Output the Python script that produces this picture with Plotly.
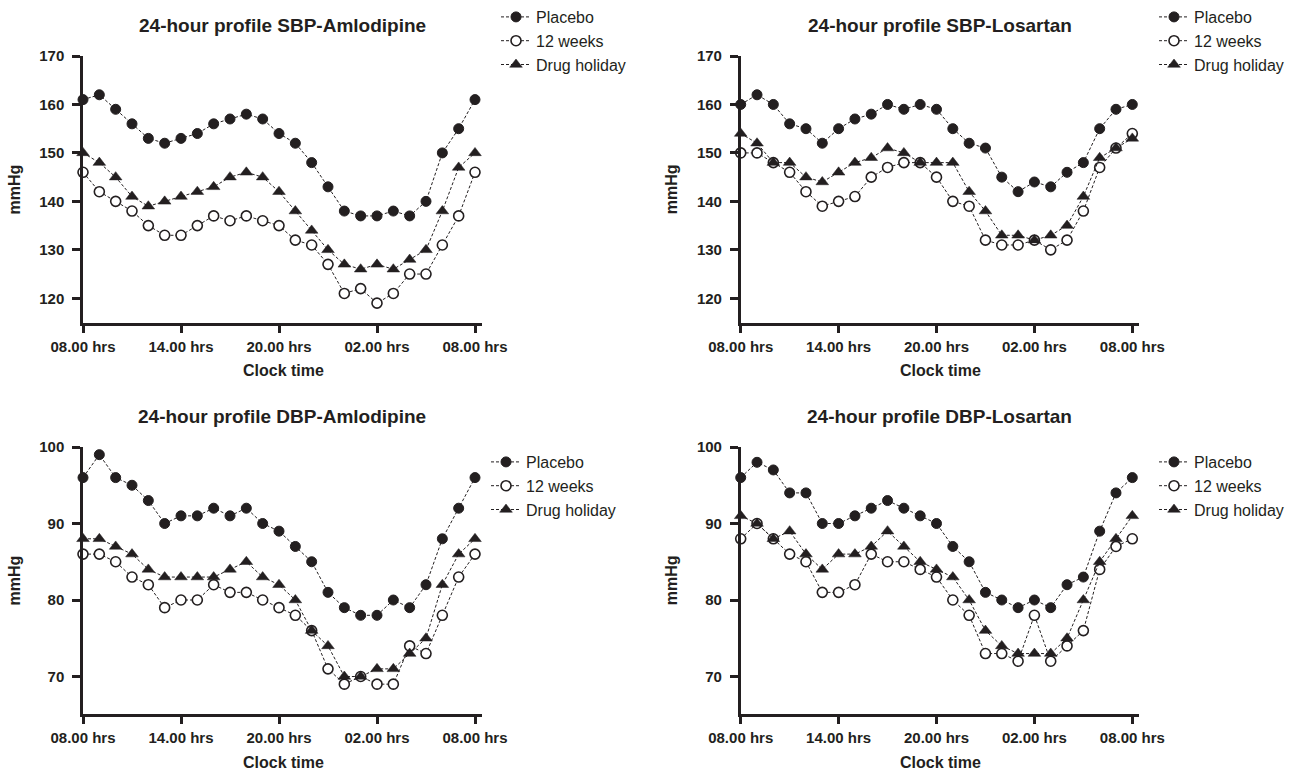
import plotly.graph_objects as go

hours = list(range(25))
tick_vals = [0, 6, 12, 18, 24]
tick_text = ["08.00 hrs", "14.00 hrs", "20.00 hrs", "02.00 hrs", "08.00 hrs"]
series_names = ["Placebo", "12 weeks", "Drug holiday"]

titles = ["24-hour profile SBP-Amlodipine", "24-hour profile SBP-Losartan",
          "24-hour profile DBP-Amlodipine", "24-hour profile DBP-Losartan"]

sbp_aml_placebo = [161,162,159,156,153,152,153,154,156,157,158,157,154,152,148,143,138,137,137,138,137,140,150,155,161]
sbp_aml_12w     = [146,142,140,138,135,133,133,135,137,136,137,136,135,132,131,127,121,122,119,121,125,125,131,137,146]
sbp_aml_holiday = [150,148,145,141,139,140,141,142,143,145,146,145,142,138,134,130,127,126,127,126,128,130,138,147,150]

sbp_los_placebo = [160,162,160,156,155,152,155,157,158,160,159,160,159,155,152,151,145,142,144,143,146,148,155,159,160]
sbp_los_12w     = [150,150,148,146,142,139,140,141,145,147,148,148,145,140,139,132,131,131,132,130,132,138,147,151,154]
sbp_los_holiday = [154,152,148,148,145,144,146,148,149,151,150,148,148,148,142,138,133,133,132,133,135,141,149,151,153]

dbp_aml_placebo = [96,99,96,95,93,90,91,91,92,91,92,90,89,87,85,81,79,78,78,80,79,82,88,92,96]
dbp_aml_12w     = [86,86,85,83,82,79,80,80,82,81,81,80,79,78,76,71,69,70,69,69,74,73,78,83,86]
dbp_aml_holiday = [88,88,87,86,84,83,83,83,83,84,85,83,82,80,76,74,70,70,71,71,73,75,82,86,88]

dbp_los_placebo = [96,98,97,94,94,90,90,91,92,93,92,91,90,87,85,81,80,79,80,79,82,83,89,94,96]
dbp_los_12w     = [88,90,88,86,85,81,81,82,86,85,85,84,83,80,78,73,73,72,78,72,74,76,84,87,88]
dbp_los_holiday = [91,90,88,89,86,84,86,86,87,89,87,85,84,83,80,76,74,73,73,73,75,80,85,88,91]

sbp_ticks = [120, 130, 140, 150, 160, 170]
dbp_ticks = [70, 80, 90, 100]

panels = [
    [sbp_aml_placebo, sbp_aml_12w, sbp_aml_holiday],
    [sbp_los_placebo, sbp_los_12w, sbp_los_holiday],
    [dbp_aml_placebo, dbp_aml_12w, dbp_aml_holiday],
    [dbp_los_placebo, dbp_los_12w, dbp_los_holiday],
]

W, H = 1302, 772
INK = "#231f20"
FONT = "Liberation Sans, Arial, sans-serif"


def px(xs):
    return xs / W


def py(ys):
    return 1 - ys / H


# pixel geometry of each panel: (left, right, top, bottom)
geo = [(83, 481.7, 56, 323), (740.7, 1139, 56, 323),
       (83, 481.7, 447, 714), (740.7, 1139, 447, 714)]
yranges = [[114.9, 170], [114.9, 170], [65.1, 100], [65.1, 100]]
yticks = [sbp_ticks, sbp_ticks, dbp_ticks, dbp_ticks]
# legend positions (pixel: marker centre x, first row centre y)
leg_pos = [(518, 17), (1176, 17), (508, 462), (1176, 462)]

fig = go.Figure()
layout = dict(width=W, height=H, paper_bgcolor="white", plot_bgcolor="white",
              margin=dict(l=0, r=0, t=0, b=0), annotations=[])

for i, series in enumerate(panels):
    k = "" if i == 0 else str(i + 1)
    legname = "legend" if i == 0 else f"legend{i+1}"
    for j, vals in enumerate(series):
        if j == 0:
            mk = dict(symbol="circle", size=10, color=INK, line=dict(color=INK, width=1))
        elif j == 1:
            mk = dict(symbol="circle", size=10, color="white", line=dict(color=INK, width=1.6))
        else:
            mk = dict(symbol="triangle-up", size=11, color=INK, line=dict(color=INK, width=0.5))
        fig.add_trace(go.Scatter(
            x=hours, y=vals, mode="lines+markers", name=series_names[j],
            line=dict(color=INK, width=1, dash="3px,2px"),
            marker=mk, cliponaxis=False,
            xaxis="x" + k, yaxis="y" + k, legend=legname, showlegend=True))
    l, r, t, b = geo[i]
    ax = dict(domain=[px(l), px(r)], range=[0, 24.41], tickvals=tick_vals, ticktext=tick_text,
              showgrid=False, zeroline=False, showline=True, linecolor=INK, linewidth=2.5,
              ticks="outside", ticklen=7, tickwidth=2.5, tickcolor=INK,
              tickfont=dict(family=FONT, size=15, color=INK, weight="bold"),
              ticklabelstandoff=1, anchor="y" + k, automargin=False, fixedrange=True)
    ay = dict(domain=[py(b), py(t)], range=yranges[i], tickvals=yticks[i],
              showgrid=False, zeroline=False, showline=True, linecolor=INK, linewidth=2.5,
              ticks="outside", ticklen=8, tickwidth=2.5, tickcolor=INK,
              tickfont=dict(family=FONT, size=15, color=INK, weight="bold"),
              ticklabelstandoff=5, anchor="x" + k, automargin=False, fixedrange=True)
    layout["xaxis" + k] = ax
    layout["yaxis" + k] = ay
    mx, my = leg_pos[i]
    layout[legname] = dict(x=px(mx - 22), y=py(my - 17), xanchor="left", yanchor="top",
                           font=dict(family=FONT, size=16, color=INK),
                           bgcolor="rgba(0,0,0,0)", itemwidth=30, tracegroupgap=0)
    cx = (l + r) / 2
    layout["annotations"] += [
        dict(text="<b>" + titles[i] + "</b>", x=px(cx), y=py(t - 31), xref="paper", yref="paper",
             showarrow=False, font=dict(family=FONT, size=19, color=INK), xanchor="center", yanchor="middle"),
        dict(text="<b>Clock time</b>", x=px(l + 200), y=py(b + 48), xref="paper", yref="paper",
             showarrow=False, font=dict(family=FONT, size=16, color=INK), xanchor="center", yanchor="middle"),
        dict(text="<b>mmHg</b>", x=px(l - 69), y=py((t + b) / 2), xref="paper", yref="paper",
             showarrow=False, textangle=-90, font=dict(family=FONT, size=16, color=INK),
             xanchor="center", yanchor="middle"),
    ]

fig.update_layout(**layout)
fig.write_html("out.html", config={"displayModeBar": False, "staticPlot": False},
               post_script="document.body.style.margin='0';document.body.style.overflow='hidden';")
